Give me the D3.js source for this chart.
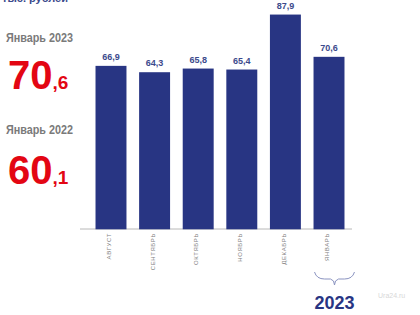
<!DOCTYPE html>
<html>
<head>
<meta charset="utf-8">
<script src="https://cdn.jsdelivr.net/npm/d3@7"></script>
<style>
  body { margin: 0; background: #fff; }
  svg { display: block; font-family: "Liberation Sans", Arial, sans-serif; }
</style>
</head>
<body>
<script>
// data
var months = ["АВГУСТ", "СЕНТЯБРЬ", "ОКТЯБРЬ", "НОЯБРЬ", "ДЕКАБРЬ", "ЯНВАРЬ"];
var values = [66.9, 64.3, 65.8, 65.4, 87.9, 70.6];
var sideLabels = ["Январь 2023", "Январь 2022"];
var sideWhole = ["70", "60"];
var sideFrac = [",6", ",1"];

var width = 420, height = 315;
var blue = "#283583", red = "#e30613";

var svg = d3.select("body").append("svg")
    .attr("width", width)
    .attr("height", height);

// scales
var x = d3.scaleBand()
    .domain(months)
    .range([82, 358])
    .paddingInner(0.29)
    .paddingOuter(0.31);

var y = d3.scaleLinear()
    .domain([0, 100])
    .range([229.3, -15]);

// axis line
svg.append("line")
    .attr("x1", 80).attr("x2", 352)
    .attr("y1", 229).attr("y2", 229)
    .attr("stroke", "#b8b8b8")
    .attr("stroke-width", 1);

// bars
svg.selectAll(".bar")
    .data(values)
    .enter()
    .append("rect")
    .attr("class", "bar")
    .attr("x", function(d, i){ return x(months[i]); })
    .attr("y", function(d){ return y(d); })
    .attr("width", x.bandwidth())
    .attr("height", function(d){ return y(0) - y(d); })
    .attr("fill", blue);

// value labels
svg.selectAll(".val")
    .data(values)
    .enter()
    .append("text")
    .attr("class", "val")
    .attr("x", function(d, i){ return x(months[i]) + x.bandwidth() / 2; })
    .attr("y", function(d){ return y(d) - 6; })
    .attr("text-anchor", "middle")
    .attr("font-size", 9)
    .attr("font-weight", "bold")
    .attr("fill", "#3b4a8c")
    .text(function(d){ return String(d).replace(".", ","); });

// month labels, rotated
svg.selectAll(".month")
    .data(months)
    .enter()
    .append("text")
    .attr("class", "month")
    .attr("transform", function(d){
        return "translate(" + (x(d) + x.bandwidth() / 2 - 2) + ",233) rotate(-90)";
    })
    .attr("text-anchor", "end")
    .attr("dy", "0.35em")
    .attr("font-size", 6)
    .attr("letter-spacing", 0.6)
    .attr("fill", "#808080")
    .text(function(d){ return d; });

// unit text, cut off at the top
svg.append("text")
    .attr("x", 2).attr("y", 2)
    .attr("font-size", 11)
    .attr("font-weight", "bold")
    .attr("fill", "#3b4a8c")
    .text("тыс. рублей");

// side figures
var sideY = [42, 134];
var bigY = [89, 184];
sideLabels.forEach(function(t, i){
    svg.append("text")
        .attr("x", 6).attr("y", sideY[i])
        .attr("font-size", 12)
        .attr("font-weight", "bold")
        .attr("textLength", 67)
        .attr("lengthAdjust", "spacingAndGlyphs")
        .attr("fill", "#7a7a7a")
        .text(t);
    var big = svg.append("text")
        .attr("x", 8).attr("y", bigY[i])
        .attr("font-weight", "bold")
        .attr("fill", red);
    big.append("tspan").attr("font-size", 40).text(sideWhole[i]);
    big.append("tspan").attr("font-size", 19).text(sideFrac[i]);
});

// brace under January
var bx0 = x("ЯНВАРЬ") + 1, bx1 = x("ЯНВАРЬ") + x.bandwidth() + 10;
var bm = (bx0 + bx1) / 2;
svg.append("path")
    .attr("d", "M" + bx0 + ",272 Q" + (bx0 + 2) + ",279 " + (bx0 + 10) + ",279 L" + (bm - 4) + ",279 Q" + bm + ",280 " + bm + ",285"
        + " Q" + bm + ",280 " + (bm + 4) + ",279 L" + (bx1 - 10) + ",279 Q" + (bx1 - 2) + ",279 " + bx1 + ",272")
    .attr("fill", "none")
    .attr("stroke", "#8a93c0")
    .attr("stroke-width", 1);

svg.append("text")
    .attr("x", bm).attr("y", 309)
    .attr("text-anchor", "middle")
    .attr("font-size", 18)
    .attr("font-weight", "bold")
    .attr("fill", blue)
    .text("2023");

// watermark
svg.append("text")
    .attr("x", 378).attr("y", 298)
    .attr("font-size", 7)
    .attr("fill", "#d8d8d8")
    .text("Ura24.ru");
</script>
</body>
</html>
